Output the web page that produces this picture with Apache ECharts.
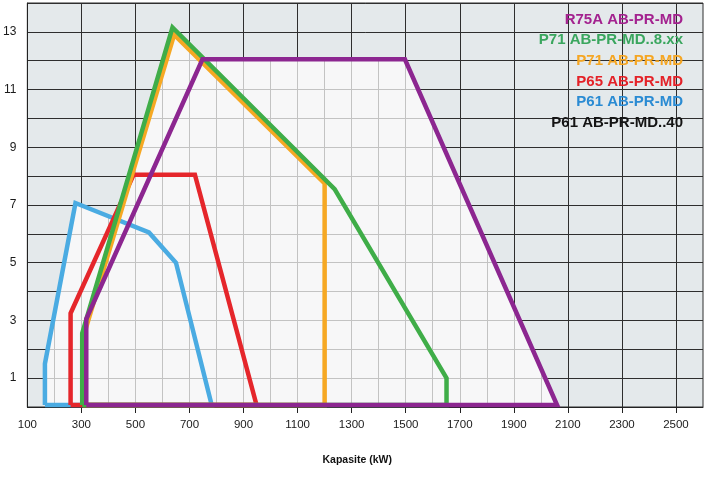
<!DOCTYPE html>
<html><head><meta charset="utf-8">
<script src="https://cdn.jsdelivr.net/npm/echarts@6/dist/echarts.min.js"></script>
<style>html,body{margin:0;padding:0;background:#fff}#c{width:707px;height:483px}</style>
</head><body><div id="c"></div>
<script>
// ---- data ----
const seriesNames = ['P61 AB-PR-MD', 'P65 AB-PR-MD', 'P71 AB-PR-MD', 'P71 AB-PR-MD..8.xx', 'R75A AB-PR-MD'];
const p61  = [[165,0.07],[165,1.5],[278,7.07],[550,6.05],[650,5.0],[782,0.07]];
const p65  = [[260,0.07],[260,3.25],[493,8.05],[720,8.05],[948,0.07]];
const p71  = [[306,0.07],[306,2.4],[643,12.9],[1200,7.75],[1200,0.07]];
const p71x = [[303,0.07],[303,2.55],[637,13.15],[1237,7.55],[1651,1.0],[1651,0.07]];
const r75a = [[318,0.07],[318,3.05],[748,12.05],[1497,12.05],[2060,0.07]];
const legendNames = ['R75A AB-PR-MD', 'P71 AB-PR-MD..8.xx', 'P71 AB-PR-MD', 'P65 AB-PR-MD', 'P61 AB-PR-MD', 'P61 AB-PR-MD..40'];
const xLabelValues = [100,300,500,700,900,1100,1300,1500,1700,1900,2100,2300,2500];
const xTickValues  = [300,500,700,900,1100,1300,1500,1700,1900,2100,2300,2500];
const yLabelValues = [1,3,5,7,9,11,13];
const xAxisName = 'Kapasite (kW)';

// ---- styles ----
const polygons = [p61, p65, p71, p71x, r75a];
const lineColors = ['#4aabe2', '#e5262b', '#f6a823', '#3fad48', '#8c2690'];
const legendColors = ['#a3228f', '#3aa65e', '#f5a623', '#e42228', '#2a8bd3', '#141414'];
const X_MIN = 100, X_MAX = 2600, X_STEP = 100, Y_MIN = 0, Y_MAX = 14, Y_STEP = 1;
const FONT = '"Liberation Sans", Arial, Helvetica, sans-serif';

function snap(v) { const d = Math.round(v * 2); return (d + 1) % 2 === 0 ? d / 2 : (d + 1) / 2; }
function cross(poly, g, k) {
  const o = 1 - k; let lo = Infinity, hi = -Infinity;
  for (let i = 0; i < poly.length; i++) {
    const p = poly[i], q = poly[(i + 1) % poly.length];
    const a = p[k] - g, b = q[k] - g;
    if (a === 0 && b === 0) { lo = Math.min(lo, p[o], q[o]); hi = Math.max(hi, p[o], q[o]); }
    else if ((a <= 0 && b >= 0) || (a >= 0 && b <= 0)) {
      const t = a / (a - b); const v = p[o] + t * (q[o] - p[o]);
      lo = Math.min(lo, v); hi = Math.max(hi, v);
    }
  }
  return lo < hi ? [lo, hi] : null;
}
function renderFill(params, api) {
  const poly = polygons[params.dataIndex];
  const children = [{ type: 'polygon', shape: { points: poly.map(p => api.coord(p)) }, style: { fill: '#f7f7f8', stroke: null } }];
  const ls = { stroke: '#c3c3c3', lineWidth: 1 };
  for (let gx = X_MIN + X_STEP; gx < X_MAX; gx += X_STEP) {
    const r = cross(poly, gx, 0);
    if (r) { const a = api.coord([gx, r[0]]), b = api.coord([gx, r[1]]); const px = snap(a[0]);
      children.push({ type: 'line', shape: { x1: px, y1: a[1], x2: px, y2: b[1] }, style: ls }); }
  }
  for (let gy = Y_MIN + Y_STEP; gy < Y_MAX; gy += Y_STEP) {
    const r = cross(poly, gy, 1);
    if (r) { const a = api.coord([r[0], gy]), b = api.coord([r[1], gy]); const py = snap(a[1]);
      children.push({ type: 'line', shape: { x1: a[0], y1: py, x2: b[0], y2: py }, style: ls }); }
  }
  return { type: 'group', children };
}

const chart = echarts.init(document.getElementById('c'), null, { renderer: 'canvas' });
const series = [{
  type: 'custom', name: 'fill', renderItem: renderFill, z: 2, silent: true,
  data: polygons.map((p, i) => [i, 0])
}];
polygons.forEach((poly, i) => {
  series.push({
    type: 'line', name: seriesNames[i], data: poly.concat([poly[0]]), showSymbol: false, symbol: 'none',
    z: 3, silent: true, clip: false,
    lineStyle: { color: lineColors[i], width: 4.5, join: 'miter', cap: 'butt' }
  });
});

chart.setOption({
  animation: false,
  grid: { left: 25, right: 4, top: 3, bottom: 76, show: true, backgroundColor: '#e4e9eb', borderColor: '#2e2e2e', borderWidth: 1 },
  xAxis: {
    type: 'value', min: X_MIN, max: X_MAX, interval: X_STEP,
    axisLine: { show: true, lineStyle: { color: '#222', width: 1 } },
    axisTick: { show: true, customValues: xTickValues, length: 6, lineStyle: { color: '#222' } },
    axisLabel: { customValues: xLabelValues, formatter: v => String(v), fontSize: 11.5, color: '#1a1a1a', margin: 12, fontFamily: FONT },
    splitLine: { show: true, lineStyle: { color: '#2e2e2e', width: 1 } },
    name: xAxisName, nameLocation: 'middle', nameGap: 48,
    nameTextStyle: { fontSize: 10.5, fontWeight: 'bold', color: '#111', fontFamily: FONT, padding: [0, 16, 0, 0] }
  },
  yAxis: {
    type: 'value', min: Y_MIN, max: Y_MAX, interval: Y_STEP,
    axisLine: { show: true, lineStyle: { color: '#222', width: 1 } },
    axisTick: { show: false },
    axisLabel: { customValues: yLabelValues, formatter: v => String(v), fontSize: 12, color: '#1a1a1a', margin: 11, fontFamily: FONT },
    splitLine: { show: true, lineStyle: { color: '#2e2e2e', width: 1 } }
  },
  graphic: legendNames.map((n, i) => ({
    type: 'text', right: 24, top: 12 + 20.7 * i, z: 10,
    style: { text: n, fill: legendColors[i], font: 'bold 15px ' + FONT, textAlign: 'right' }
  })),
  series
});
</script></body></html>
